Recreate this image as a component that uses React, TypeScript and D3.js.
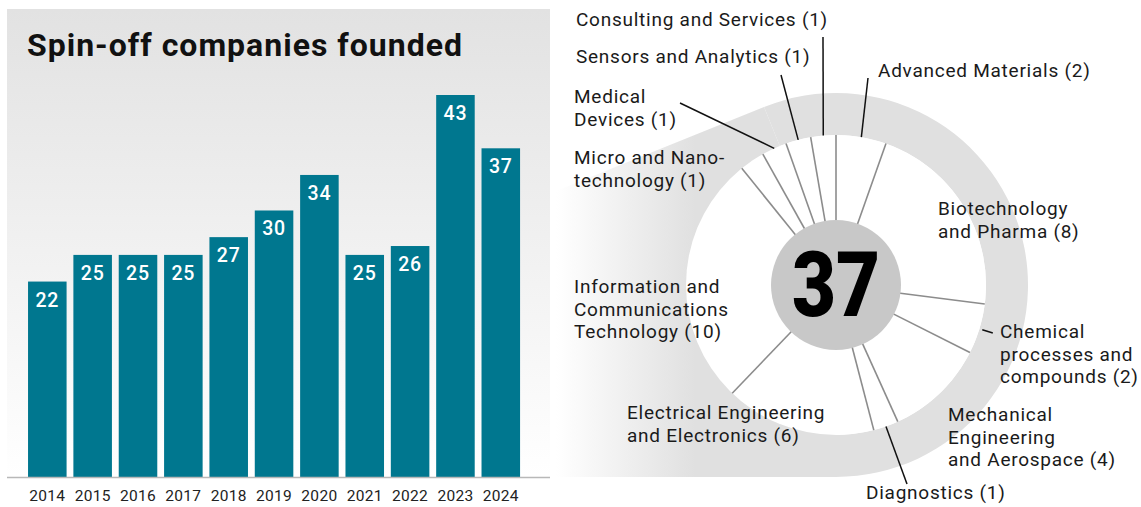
import React from 'react';
import * as d3 from 'd3';

// ---------- data ----------
const years = ['2014', '2015', '2016', '2017', '2018', '2019', '2020', '2021', '2022', '2023', '2024'];
const founded = [22, 25, 25, 25, 27, 30, 34, 25, 26, 43, 37];

const sectors = [
  'Advanced Materials',
  'Biotechnology and Pharma',
  'Chemical processes and compounds',
  'Mechanical Engineering and Aerospace',
  'Diagnostics',
  'Electrical Engineering and Electronics',
  'Information and Communications Technology',
  'Micro and Nanotechnology',
  'Medical Devices',
  'Sensors and Analytics',
  'Consulting and Services',
];
const sectorCounts = [2, 8, 2, 4, 1, 6, 10, 1, 1, 1, 1];
const sectorLabelLines = [
  ['Advanced Materials'],
  ['Biotechnology', 'and Pharma'],
  ['Chemical', 'processes and', 'compounds'],
  ['Mechanical', 'Engineering', 'and Aerospace'],
  ['Diagnostics'],
  ['Electrical Engineering', 'and Electronics'],
  ['Information and', 'Communications', 'Technology'],
  ['Micro and Nano-', 'technology'],
  ['Medical', 'Devices'],
  ['Sensors and Analytics'],
  ['Consulting and Services'],
];
const titleText = 'Spin-off companies founded';

// ---------- layout ----------
const W = 1141;
const H = 507;
const FONT = 'Roboto, "Noto Sans", sans-serif';
const panel = { x0: 7, x1: 550, y0: 9, y1: 477 };
const donut = { cx: 836, cy: 285, rCore: 65, rWhite: 150, rOuter: 192, tailLeft: 556, tangentDeg: -22 };
// label placement (x, first baseline) and optional leader end points
const labelLayout = [
  { x: 878, y: 77, leader: [868, 78] },
  { x: 938, y: 215 },
  { x: 1000, y: 338, tick: true },
  { x: 948, y: 421 },
  { x: 866, y: 499, leader: [907, 484] },
  { x: 627, y: 419 },
  { x: 574, y: 293 },
  { x: 574, y: 164 },
  { x: 574, y: 103, leader: [680, 103] },
  { x: 576, y: 63, leader: [781, 75] },
  { x: 576, y: 26, leader: [823, 37] },
];

const BAR = '#00778f';

export default function App() {
  const x = d3.scaleBand<string>().domain(years).range([23.5, 524.6]).paddingInner(0.15).paddingOuter(0.1);
  const y = d3.scaleLinear().domain([0, 43]).range([panel.y1, 95]);

  const total = d3.sum(sectorCounts);
  const pie = d3.pie<number>().sort(null).value((d) => d).startAngle(0).endAngle(2 * Math.PI);
  const arcs = pie(sectorCounts);
  const { cx, cy, rCore, rWhite, rOuter } = donut;
  const pt = (a: number, r: number): [number, number] => [cx + Math.sin(a) * r, cy - Math.cos(a) * r];

  // gradient tail to the left of the ring (tangent line + bottom line)
  const th = (donut.tangentDeg * Math.PI) / 180;
  const P = pt(th, rOuter);
  const tt = (P[0] - donut.tailLeft) / Math.cos(th);
  const leftY = P[1] + Math.sin(-th) * tt;
  const tailPath = `M${donut.tailLeft},${leftY} L${P[0]},${P[1]} L${cx},${cy} L${cx},${cy + rOuter} L${donut.tailLeft},${cy + rOuter} Z`;
  const ringArc = d3.arc<any>()({ innerRadius: rWhite, outerRadius: rOuter, startAngle: th, endAngle: Math.PI }) as string;

  return (
    <svg width={W} height={H} style={{ position: 'absolute', left: 0, top: 0 }} fontFamily={FONT}>
      <defs>
        <linearGradient id="panelGrad" x1="0" y1={panel.y0} x2="0" y2={panel.y1} gradientUnits="userSpaceOnUse">
          <stop offset="0" stopColor="#e2e2e2" />
          <stop offset="1" stopColor="#ffffff" />
        </linearGradient>
        <linearGradient id="tailGrad" x1={donut.tailLeft} y1="0" x2={695} y2="0" gradientUnits="userSpaceOnUse">
          <stop offset="0" stopColor="#ffffff" />
          <stop offset="1" stopColor="#e0e0e0" />
        </linearGradient>
      </defs>
      <rect x={0} y={0} width={W} height={H} fill="#fff" />

      {/* ---------- bar chart ---------- */}
      <rect x={panel.x0} y={panel.y0} width={panel.x1 - panel.x0} height={panel.y1 - panel.y0} fill="url(#panelGrad)" />
      <text x={27} y={56} fontSize={32} fontWeight={700} letterSpacing={1} fill="#111">{titleText}</text>
      {founded.map((val, i) => (
        <g key={years[i]}>
          <rect x={x(years[i])} y={y(val)} width={x.bandwidth()} height={y(0) - y(val)} fill={BAR} />
          <text x={(x(years[i]) as number) + x.bandwidth() / 2} y={y(val) + 25} fontSize={19.5} fontWeight={500} letterSpacing={0.8} fill="#fff" textAnchor="middle">{val}</text>
          <text x={(x(years[i]) as number) + x.bandwidth() / 2} y={501} fontSize={15.5} letterSpacing={0.3} fill="#222" textAnchor="middle">{years[i]}</text>
        </g>
      ))}
      <line x1={panel.x0} x2={panel.x1} y1={panel.y1 + 0.5} y2={panel.y1 + 0.5} stroke="#b8b8b8" strokeWidth={1.5} />

      {/* ---------- donut ---------- */}
      <path d={tailPath} fill="url(#tailGrad)" />
      <path d={ringArc} transform={`translate(${cx},${cy})`} fill="#e0e0e0" />
      <circle cx={cx} cy={cy} r={rWhite} fill="#fff" />
      {arcs.map((a, i) => {
        const [x1, y1] = pt(a.startAngle, rCore - 2);
        const [x2, y2] = pt(a.startAngle, rWhite);
        return <line key={'b' + i} x1={x1} y1={y1} x2={x2} y2={y2} stroke="#8c8c8c" strokeWidth={1.6} />;
      })}
      <circle cx={cx} cy={cy} r={rCore} fill="#c8c8c8" />
      <text x={cx} y={cy + 31} fontSize={90} fontWeight={900} fill="#000" textAnchor="middle" textLength={88} lengthAdjust="spacingAndGlyphs">{total}</text>

      {arcs.map((a, i) => {
        const L = labelLayout[i];
        const mid = (a.startAngle + a.endAngle) / 2;
        let leader = null;
        if (L.leader) {
          const [x1, y1] = pt(mid, rWhite);
          leader = <line x1={x1} y1={y1} x2={L.leader[0]} y2={L.leader[1]} stroke="#111" strokeWidth={1.5} />;
        } else if (L.tick) {
          const [x1, y1] = pt(mid, rWhite + 3);
          const [x2, y2] = pt(mid, rWhite + 14);
          leader = <line x1={x1} y1={y1} x2={x2} y2={y2} stroke="#111" strokeWidth={1.5} />;
        }
        const lines = sectorLabelLines[i];
        return (
          <g key={sectors[i]}>
            {leader}
            <text x={L.x} y={L.y} fontSize={19} letterSpacing={0.75} fill="#1a1a1a">
              {lines.map((ln, j) => (
                <tspan key={j} x={L.x} dy={j === 0 ? 0 : 22.5}>
                  {j === lines.length - 1 ? `${ln} (${sectorCounts[i]})` : ln}
                </tspan>
              ))}
            </text>
          </g>
        );
      })}
    </svg>
  );
}
